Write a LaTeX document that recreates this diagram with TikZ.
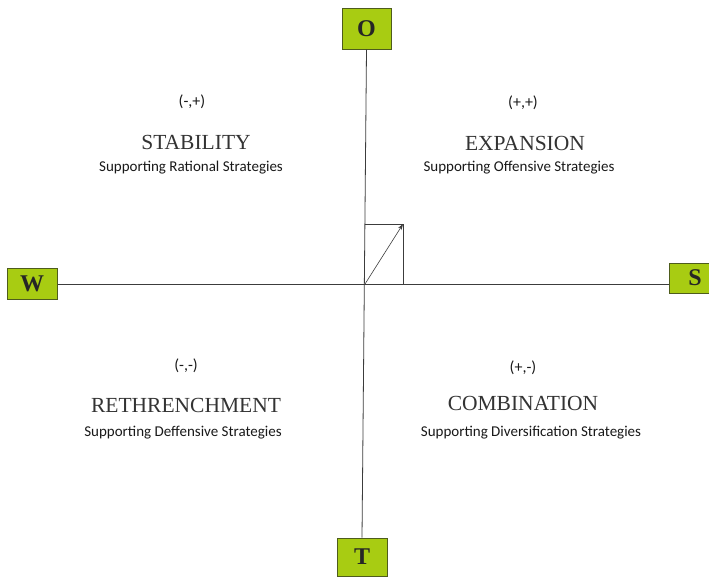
\documentclass[tikz,border=0pt]{standalone}
\usepackage{fontspec}
\setmainfont{Liberation Serif}
\newfontfamily\calib{Carlito}
\usetikzlibrary{arrows.meta}
\definecolor{boxfill}{RGB}{168,204,18}
\definecolor{boxline}{RGB}{78,92,28}
\definecolor{axis}{RGB}{60,60,60}
\tikzset{
  lettbox/.style={draw=boxline, line width=1pt, fill=boxfill, inner sep=0pt,
    font=\fontsize{24}{24}\selectfont\bfseries, text=black!85},
  pairtxt/.style={font=\calib\fontsize{16}{16}\selectfont, text=black!90},
  headtxt/.style={font=\fontsize{21.5}{21.5}\selectfont, text=black!80},
  subtxt/.style={font=\calib\fontsize{15}{15}\selectfont, text=black!90},
  axisline/.style={draw=axis, line width=0.8pt}
}
\begin{document}
\begin{tikzpicture}[x=1pt,y=-1pt]
\useasboundingbox (0,0) rectangle (709,576);
\fill[white] (0,0) rectangle (709,576);
% boxes
\node[lettbox, minimum width=49pt, minimum height=41pt] (O) at (366.5,28.5) {O};
\node[lettbox, minimum width=50pt, minimum height=31pt] (W) at (32,284) {W};
\node[lettbox, minimum width=40pt, minimum height=30pt] (S) at (689,278) {\hspace*{12pt}S};
\node[lettbox, minimum width=50pt, minimum height=38pt] (T) at (362,557) {T};
% axes
\draw[axisline] (O.south) -- (T.north);
\draw[axisline] (W.east) -- (S.west |- W.east);
% vector
\coordinate (c) at (365,284);
\coordinate (p) at (403,224);
\draw[axisline, line width=0.6pt] (c |- p) -- (p) -- (p |- c);
\draw[axisline, line width=0.6pt, -{Stealth[length=6pt,width=4pt]}] (c) -- (p);
% quadrant texts
\node[pairtxt] (p1) at (192,102) {(-,+)};
\node[headtxt] (h1) at (196,142) {STABILITY};
\node[subtxt] (s1) at (191,168) {Supporting Rational Strategies};

\node[pairtxt] (p2) at (523,103) {(+,+)};
\node[headtxt] (h2) at (525,143) {EXPANSION};
\node[subtxt] (s2) at (519,168) {Supporting Offensive Strategies};

\node[pairtxt] (p3) at (186,366) {(-,-)};
\node[headtxt] (h3) at (186,405) {RETHRENCHMENT};
\node[subtxt] (s3) at (183,433) {Supporting Deffensive Strategies};

\node[pairtxt] (p4) at (523,368) {(+,-)};
\node[headtxt] (h4) at (523,403) {COMBINATION};
\node[subtxt] (s4) at (531,433) {Supporting Diversification Strategies};
\end{tikzpicture}
\end{document}
